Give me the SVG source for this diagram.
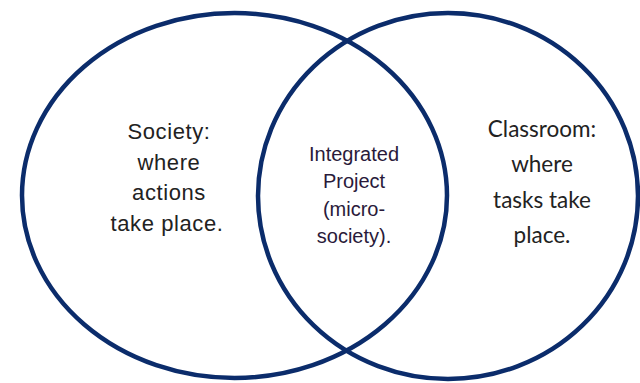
<svg xmlns="http://www.w3.org/2000/svg" width="640" height="383" viewBox="0 0 640 383">
<style>
.ring{fill:none;stroke:#0b2c6b;stroke-width:4.5}
.l{font-family:"Liberation Sans",Arial,sans-serif;font-size:22px;letter-spacing:0.6px;fill:#222;text-anchor:middle}
.m{font-family:"Liberation Sans",Arial,sans-serif;font-size:20px;fill:#2a1a3a;text-anchor:middle}
.r{font-family:Lato,"Open Sans",sans-serif;font-size:22.5px;fill:#222;text-anchor:middle}
</style>
<rect width="640" height="383" fill="#fff"/>
<g id="society">
<ellipse class="ring" cx="234.5" cy="195.5" rx="212.5" ry="182.5"/>
<text class="l" x="169" y="139">Society:</text>
<text class="l" x="169" y="170">where</text>
<text class="l" x="169" y="200">actions</text>
<text class="l" x="167" y="231">take place.</text>
</g>
<g id="classroom">
<ellipse class="ring" cx="448" cy="196" rx="190" ry="183"/>
<text class="r" x="542" y="137">Classroom:</text>
<text class="r" x="542" y="172">where</text>
<text class="r" x="542" y="208">tasks take</text>
<text class="r" x="542" y="243">place.</text>
</g>
<g id="integrated">
<text class="m" x="354" y="161">Integrated</text>
<text class="m" x="354" y="188">Project</text>
<text class="m" x="354" y="216">(micro-</text>
<text class="m" x="354" y="243">society).</text>
</g>
<g id="connectors"/>
</svg>
